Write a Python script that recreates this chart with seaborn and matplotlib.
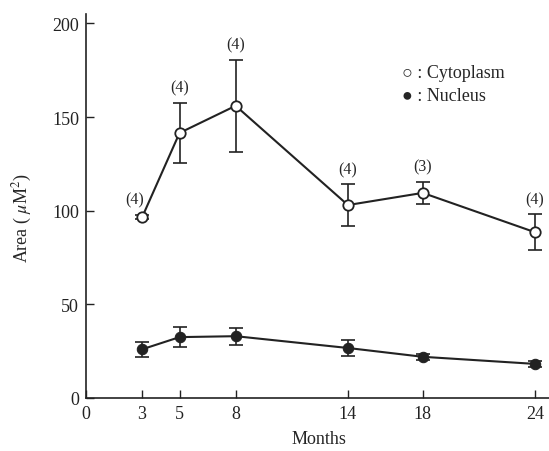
import numpy as np
import pandas as pd
import matplotlib
matplotlib.use("Agg")
import matplotlib.pyplot as plt
import seaborn as sns

# values
months = [3, 5, 8, 14, 18, 24]
cyto_mean = [96.5, 141.5, 156.0, 103.0, 109.5, 88.5]
cyto_err = [1.0, 16.0, 24.5, 11.0, 6.0, 9.5]
cyto_n = ["(4)", "(4)", "(4)", "(4)", "(3)", "(4)"]
nuc_mean = [26.0, 32.5, 33.0, 26.7, 22.0, 18.2]
nuc_err = [4.0, 5.5, 4.5, 4.5, 1.5, 1.5]

x_ticks = [0, 3, 5, 8, 14, 18, 24]
y_ticks = [0, 50, 100, 150, 200]

df = pd.DataFrame({
    "month": months * 2,
    "area": cyto_mean + nuc_mean,
    "part": ["Cytoplasm"] * 6 + ["Nucleus"] * 6,
})

sns.set_style("ticks")
plt.rcParams["font.family"] = ["Liberation Serif", "DejaVu Serif"]
plt.rcParams["mathtext.fontset"] = "stix"

fig = plt.figure(figsize=(5.49, 4.52), dpi=100)
ax = fig.add_axes([86 / 549, 53 / 452, 463 / 549, 384 / 452])

ink = "#222222"

# error bars first, lines + markers on top
ax.errorbar(months, cyto_mean, yerr=cyto_err, fmt="none", ecolor=ink,
            elinewidth=1.2, capsize=5, capthick=1.2, zorder=2)
ax.errorbar(months, nuc_mean, yerr=nuc_err, fmt="none", ecolor=ink,
            elinewidth=1.2, capsize=5, capthick=1.2, zorder=2)

sns.lineplot(data=df[df.part == "Cytoplasm"], x="month", y="area", ax=ax,
             color=ink, linewidth=1.5, marker="o", markersize=7.5,
             markerfacecolor="white", markeredgecolor=ink,
             markeredgewidth=1.3, zorder=3)
sns.lineplot(data=df[df.part == "Nucleus"], x="month", y="area", ax=ax,
             color=ink, linewidth=1.5, marker="o", markersize=7.5,
             markerfacecolor=ink, markeredgecolor=ink, zorder=3)

# sample counts above cytoplasm bars
for m, v, e, n in zip(months, cyto_mean, cyto_err, cyto_n):
    if e < 3:
        ax.text(m - 0.4, v + 5, n, ha="center", va="bottom", fontsize=11.5)
    else:
        ax.text(m, v + e + 4, n, ha="center", va="bottom", fontsize=11.5)

# legend as text
ax.text(16.9, 174, "○ : Cytoplasm", fontsize=13, va="center")
ax.text(16.9, 161.5, "● : Nucleus", fontsize=13, va="center")

ax.set_xlim(0, 24.75)
ax.set_ylim(0, 205)
ax.set_xticks(x_ticks)
ax.set_yticks(y_ticks)
ax.tick_params(direction="in", length=6, width=1, labelsize=13, colors=ink)
ax.tick_params(axis="x", pad=5)
ax.tick_params(axis="y", pad=5)
ax.set_xlabel("Months", fontsize=13)
ax.set_ylabel(r"Area ( $\mu$M$^2$)", fontsize=13)
ax.xaxis.set_label_coords((319 - 86) / 463, -(431 - 399) / 384)
ax.yaxis.set_label_coords((34 - 86) / 463, (399 - 218) / 384)
sns.despine(ax=ax)
for s in ["left", "bottom"]:
    ax.spines[s].set_linewidth(1.2)
    ax.spines[s].set_color(ink)

fig.savefig("out.png", dpi=100)
